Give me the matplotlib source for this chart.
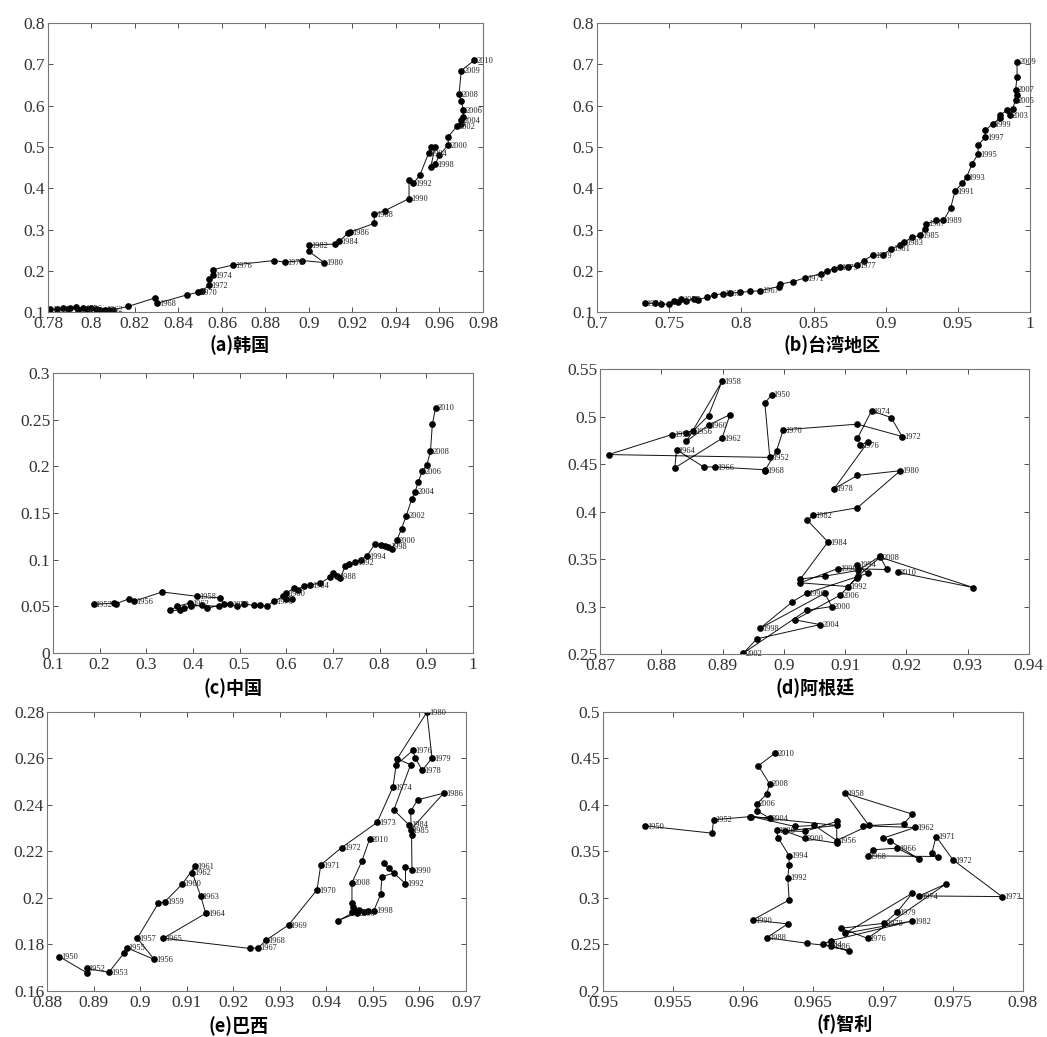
import matplotlib
matplotlib.use('Agg')
import matplotlib.pyplot as plt
from matplotlib.ticker import FuncFormatter

plt.rcParams['font.family'] = ['Liberation Serif', 'DejaVu Serif']

# (a) Korea, 1950-2010
kor_years = list(range(1950, 2011))
kor_x = [0.781, 0.784, 0.787, 0.790, 0.789, 0.793, 0.796, 0.794, 0.798, 0.800,
         0.802, 0.804, 0.806, 0.803, 0.808, 0.810, 0.817, 0.829, 0.830, 0.844,
         0.849, 0.851, 0.854, 0.854, 0.856, 0.856, 0.865, 0.884, 0.889, 0.897,
         0.907, 0.900, 0.900, 0.912, 0.914, 0.918, 0.919, 0.930, 0.930, 0.935,
         0.946, 0.946, 0.948, 0.951, 0.955, 0.956, 0.958, 0.956, 0.958, 0.960,
         0.964, 0.964, 0.968, 0.970, 0.970, 0.971, 0.971, 0.970, 0.969, 0.970,
         0.976]
kor_y = [0.108, 0.107, 0.109, 0.111, 0.108, 0.112, 0.110, 0.106, 0.108, 0.110,
         0.107, 0.105, 0.106, 0.104, 0.105, 0.106, 0.114, 0.134, 0.121, 0.142,
         0.148, 0.152, 0.165, 0.180, 0.190, 0.203, 0.214, 0.225, 0.221, 0.225,
         0.220, 0.247, 0.262, 0.265, 0.272, 0.292, 0.294, 0.315, 0.337, 0.346,
         0.375, 0.421, 0.412, 0.432, 0.485, 0.500, 0.500, 0.452, 0.458, 0.480,
         0.505, 0.525, 0.550, 0.555, 0.565, 0.572, 0.590, 0.612, 0.628, 0.685,
         0.710]
kor_labels = [1950, 1956, 1962, 1968, 1970, 1972, 1974, 1976, 1978, 1980, 1982,
              1984, 1986, 1988, 1990, 1992, 1994, 1998, 2000, 2002, 2004, 2006,
              2008, 2009, 2010]

# (b) Taiwan, 1951-2009
tw_years = list(range(1951, 2010))
tw_x = [0.733, 0.740, 0.744, 0.750, 0.753, 0.756, 0.758, 0.762, 0.767, 0.770,
        0.776, 0.781, 0.787, 0.792, 0.799, 0.806, 0.813, 0.826, 0.827, 0.836,
        0.844, 0.855, 0.859, 0.864, 0.868, 0.874, 0.880, 0.885, 0.891, 0.898,
        0.904, 0.910, 0.913, 0.918, 0.924, 0.927, 0.928, 0.935, 0.940, 0.945,
        0.948, 0.953, 0.956, 0.960, 0.964, 0.964, 0.969, 0.969, 0.974, 0.979,
        0.979, 0.984, 0.986, 0.988, 0.990, 0.991, 0.990, 0.991, 0.991]
tw_y = [0.122, 0.121, 0.120, 0.119, 0.128, 0.124, 0.131, 0.127, 0.133, 0.130,
        0.136, 0.141, 0.145, 0.146, 0.148, 0.150, 0.152, 0.162, 0.168, 0.174,
        0.183, 0.193, 0.199, 0.205, 0.209, 0.209, 0.213, 0.225, 0.238, 0.238,
        0.254, 0.262, 0.270, 0.281, 0.286, 0.302, 0.314, 0.322, 0.322, 0.352,
        0.393, 0.412, 0.427, 0.460, 0.483, 0.505, 0.523, 0.540, 0.556, 0.569,
        0.577, 0.589, 0.577, 0.593, 0.614, 0.625, 0.639, 0.669, 0.707]
tw_labels = [1951, 1957, 1963, 1967, 1971, 1975, 1977, 1979, 1981, 1983, 1985,
             1987, 1989, 1991, 1993, 1995, 1997, 1999, 2003, 2005, 2007, 2009]

# (c) China, 1952-2010
cn_years = list(range(1952, 2011))
cn_x = [0.187, 0.230, 0.234, 0.262, 0.273, 0.334, 0.409, 0.459, 0.466, 0.430,
        0.394, 0.366, 0.351, 0.373, 0.380, 0.395, 0.420, 0.455, 0.480, 0.494,
        0.510, 0.530, 0.544, 0.559, 0.573, 0.594, 0.600, 0.612, 0.600, 0.616,
        0.625, 0.637, 0.651, 0.673, 0.694, 0.701, 0.709, 0.716, 0.726, 0.735,
        0.747, 0.760, 0.773, 0.790, 0.804, 0.812, 0.819, 0.826, 0.837, 0.847,
        0.857, 0.869, 0.876, 0.883, 0.891, 0.901, 0.909, 0.913, 0.920]
cn_y = [0.0520, 0.0536, 0.0525, 0.0580, 0.0554, 0.0654, 0.0607, 0.0590, 0.0520, 0.0480,
        0.0536, 0.0500, 0.0457, 0.0457, 0.0480, 0.0500, 0.0510, 0.0500, 0.0520, 0.0500,
        0.0525, 0.0510, 0.0510, 0.0500, 0.0554, 0.0607, 0.0575, 0.0580, 0.0640, 0.0696,
        0.0680, 0.0714, 0.0730, 0.0750, 0.0814, 0.0857, 0.0820, 0.0800, 0.0930, 0.0950,
        0.0970, 0.1000, 0.1040, 0.1170, 0.1160, 0.1150, 0.1140, 0.1110, 0.1210, 0.1330,
        0.1470, 0.1650, 0.1730, 0.1830, 0.1950, 0.2010, 0.2160, 0.2450, 0.2630]
cn_labels = [1952, 1956, 1958, 1962, 1970, 1976, 1980, 1984, 1988,
             1992, 1994, 1998, 2000, 2002, 2004, 2006, 2008, 2010]

# (d) Argentina, 1950-2010
ar_years = list(range(1950, 2011))
ar_x = [0.8980, 0.8969, 0.8977, 0.8714, 0.8817, 0.8841, 0.8852, 0.8877, 0.8899, 0.8841,
        0.8877, 0.8912, 0.8899, 0.8822, 0.8825, 0.8869, 0.8888, 0.8969, 0.8969, 0.8988,
        0.8999, 0.9120, 0.9193, 0.9175, 0.9143, 0.9120, 0.9125, 0.9137, 0.9082, 0.9120,
        0.9190, 0.9120, 0.9048, 0.9038, 0.9072, 0.9027, 0.9067, 0.9121, 0.9157, 0.9168,
        0.9088, 0.9027, 0.9105, 0.9119, 0.9119, 0.9137, 0.9037, 0.9014, 0.8961, 0.9067,
        0.9078, 0.9037, 0.8934, 0.8956, 0.9059, 0.9018, 0.9092, 0.9121, 0.9157, 0.9309,
        0.9186]
ar_y = [0.523, 0.514, 0.457, 0.460, 0.481, 0.483, 0.485, 0.501, 0.537, 0.474,
        0.491, 0.502, 0.477, 0.446, 0.465, 0.447, 0.447, 0.444, 0.443, 0.464,
        0.486, 0.492, 0.479, 0.499, 0.506, 0.477, 0.470, 0.473, 0.424, 0.438,
        0.443, 0.404, 0.396, 0.391, 0.368, 0.329, 0.332, 0.338, 0.353, 0.339,
        0.340, 0.325, 0.321, 0.330, 0.344, 0.335, 0.314, 0.305, 0.277, 0.314,
        0.300, 0.296, 0.251, 0.266, 0.281, 0.286, 0.312, 0.332, 0.352, 0.320,
        0.336]
ar_labels = [1950, 1952, 1954, 1956, 1958, 1960, 1962, 1964, 1966, 1968, 1970,
             1972, 1974, 1976, 1978, 1980, 1982, 1984, 1990, 1992, 1994,
             1996, 1998, 2000, 2002, 2004, 2006, 2008, 2010]

# (e) Brazil, 1950-2010
br_years = list(range(1950, 2011))
br_x = [0.8826, 0.8885, 0.8885, 0.8933, 0.8966, 0.8971, 0.9030, 0.8994, 0.9039, 0.9053,
        0.9091, 0.9118, 0.9112, 0.9130, 0.9141, 0.9050, 0.9235, 0.9254, 0.9271, 0.9319,
        0.9380, 0.9388, 0.9433, 0.9509, 0.9543, 0.9550, 0.9586, 0.9591, 0.9606, 0.9627,
        0.9616, 0.9552, 0.9581, 0.9545, 0.9577, 0.9581, 0.9652, 0.9596, 0.9581, 0.9583,
        0.9584, 0.9570, 0.9570, 0.9534, 0.9523, 0.9545, 0.9519, 0.9517, 0.9502, 0.9480,
        0.9465, 0.9426, 0.9470, 0.9490, 0.9455, 0.9460, 0.9458, 0.9455, 0.9455, 0.9476,
        0.9493]
br_y = [0.1748, 0.1679, 0.1697, 0.1680, 0.1765, 0.1786, 0.1736, 0.1827, 0.1977, 0.1984,
        0.2061, 0.2138, 0.2109, 0.2009, 0.1934, 0.1827, 0.1783, 0.1786, 0.1819, 0.1884,
        0.2035, 0.2142, 0.2217, 0.2325, 0.2477, 0.2573, 0.2635, 0.2602, 0.2549, 0.2602,
        0.2799, 0.2599, 0.2573, 0.2379, 0.2315, 0.2293, 0.2451, 0.2422, 0.2372, 0.2269,
        0.2121, 0.2135, 0.2061, 0.2128, 0.2150, 0.2107, 0.2092, 0.2017, 0.1946, 0.1940,
        0.1935, 0.1903, 0.1950, 0.1945, 0.1941, 0.1950, 0.1960, 0.1977, 0.2066, 0.2157,
        0.2254]
br_labels = [1950, 1952, 1953, 1955, 1956, 1957, 1959, 1960, 1961, 1962, 1963, 1964,
             1965, 1967, 1968, 1969, 1970, 1971, 1972, 1973, 1974, 1976, 1978, 1979,
             1980, 1984, 1985, 1986, 1990, 1992, 1998, 2000, 2008, 2010]

# (f) Chile, 1950-2010
cl_years = list(range(1950, 2011))
cl_x = [0.9530, 0.9578, 0.9579, 0.9606, 0.9637, 0.9651, 0.9667, 0.9690, 0.9673, 0.9721,
        0.9715, 0.9686, 0.9723, 0.9700, 0.9705, 0.9726, 0.9710, 0.9693, 0.9689, 0.9739,
        0.9735, 0.9738, 0.9750, 0.9785, 0.9726, 0.9745, 0.9689, 0.9670, 0.9701, 0.9710,
        0.9721, 0.9673, 0.9721, 0.9663, 0.9657, 0.9676, 0.9663, 0.9646, 0.9617, 0.9632,
        0.9607, 0.9633, 0.9632, 0.9633, 0.9633, 0.9625, 0.9624, 0.9644, 0.9667, 0.9667,
        0.9644, 0.9630, 0.9667, 0.9605, 0.9619, 0.9610, 0.9610, 0.9617, 0.9619, 0.9611,
        0.9623]
cl_y = [0.3776, 0.3697, 0.3841, 0.3876, 0.3769, 0.3780, 0.3618, 0.3780, 0.4128, 0.3902,
        0.3798, 0.3776, 0.3758, 0.3643, 0.3615, 0.3417, 0.3536, 0.3518, 0.3453, 0.3446,
        0.3489, 0.3661, 0.3410, 0.3015, 0.3022, 0.3151, 0.2566, 0.2674, 0.2728, 0.2846,
        0.3051, 0.2620, 0.2753, 0.2541, 0.2502, 0.2430, 0.2483, 0.2512, 0.2573, 0.2721,
        0.2764, 0.2979, 0.3219, 0.3356, 0.3456, 0.3650, 0.3726, 0.3715, 0.3823, 0.3590,
        0.3643, 0.3720, 0.3780, 0.3876, 0.3859, 0.3938, 0.4013, 0.4117, 0.4228, 0.4422,
        0.4558]
cl_labels = [1950, 1952, 1956, 1958, 1962, 1966, 1968, 1971, 1972, 1973, 1974, 1976,
             1978, 1979, 1982, 1984, 1986, 1988, 1990, 1992, 1994, 1996, 2000, 2004,
             2006, 2008, 2010]


def draw_panel(ax, xs, ys, years, label_years, xticks, yticks, title, tx, ty):
    ax.plot(xs, ys, color='#111111', linewidth=0.7, marker='o', markersize=3.8,
            markerfacecolor='black', markeredgecolor='black')
    for x, y, yr in zip(xs, ys, years):
        if yr in label_years:
            ax.annotate(str(yr), (x, y), xytext=(1.5, -0.5), textcoords='offset points',
                        fontsize=6, va='center', ha='left', color='#222222')
    ax.set_xlim(xticks[0], xticks[-1])
    ax.set_ylim(yticks[0], yticks[-1])
    ax.set_xticks(xticks)
    ax.set_yticks(yticks)
    fmt = FuncFormatter(lambda v, p: '%g' % round(v, 4))
    ax.xaxis.set_major_formatter(fmt)
    ax.yaxis.set_major_formatter(fmt)
    ax.tick_params(direction='in', top=True, right=True, length=3.5, width=0.6,
                   labelsize=12.5, colors='#333333', pad=2)
    ax.tick_params(axis='x', pad=3)
    for s in ax.spines.values():
        s.set_color('#777777')
        s.set_linewidth(0.8)
    fig.text(tx / 1047, 1 - ty / 1037, title, ha='center', va='center', fontsize=13,
             fontweight='bold', family=['Noto Sans CJK SC', 'DejaVu Sans'])


fig = plt.figure(figsize=(10.47, 10.37), dpi=100)

ax_a = fig.add_axes([0.0458, 0.699, 0.4155, 0.2787])
ax_b = fig.add_axes([0.5702, 0.699, 0.4136, 0.2787])
ax_c = fig.add_axes([0.0506, 0.3703, 0.4011, 0.2700])
ax_d = fig.add_axes([0.5731, 0.3693, 0.4097, 0.2748])
ax_e = fig.add_axes([0.0449, 0.0444, 0.4002, 0.2690])
ax_f = fig.add_axes([0.5759, 0.0444, 0.4011, 0.2690])

draw_panel(ax_a, kor_x, kor_y, kor_years, kor_labels,
           [0.78, 0.8, 0.82, 0.84, 0.86, 0.88, 0.9, 0.92, 0.94, 0.96, 0.98],
           [0.1, 0.2, 0.3, 0.4, 0.5, 0.6, 0.7, 0.8], '(a)韩国', 240, 345)
draw_panel(ax_b, tw_x, tw_y, tw_years, tw_labels,
           [0.7, 0.75, 0.8, 0.85, 0.9, 0.95, 1.0],
           [0.1, 0.2, 0.3, 0.4, 0.5, 0.6, 0.7, 0.8], '(b)台湾地区', 832, 345)
draw_panel(ax_c, cn_x, cn_y, cn_years, cn_labels,
           [0.1, 0.2, 0.3, 0.4, 0.5, 0.6, 0.7, 0.8, 0.9, 1.0],
           [0, 0.05, 0.1, 0.15, 0.2, 0.25, 0.3], '(c)中国', 233, 688)
draw_panel(ax_d, ar_x, ar_y, ar_years, ar_labels,
           [0.87, 0.88, 0.89, 0.9, 0.91, 0.92, 0.93, 0.94],
           [0.25, 0.3, 0.35, 0.4, 0.45, 0.5, 0.55], '(d)阿根廷', 815, 688)
draw_panel(ax_e, br_x, br_y, br_years, br_labels,
           [0.88, 0.89, 0.9, 0.91, 0.92, 0.93, 0.94, 0.95, 0.96, 0.97],
           [0.16, 0.18, 0.2, 0.22, 0.24, 0.26, 0.28], '(e)巴西', 238, 1026)
draw_panel(ax_f, cl_x, cl_y, cl_years, cl_labels,
           [0.95, 0.955, 0.96, 0.965, 0.97, 0.975, 0.98],
           [0.2, 0.25, 0.3, 0.35, 0.4, 0.45, 0.5], '(f)智利', 845, 1024)

fig.savefig('out.png', dpi=100)
